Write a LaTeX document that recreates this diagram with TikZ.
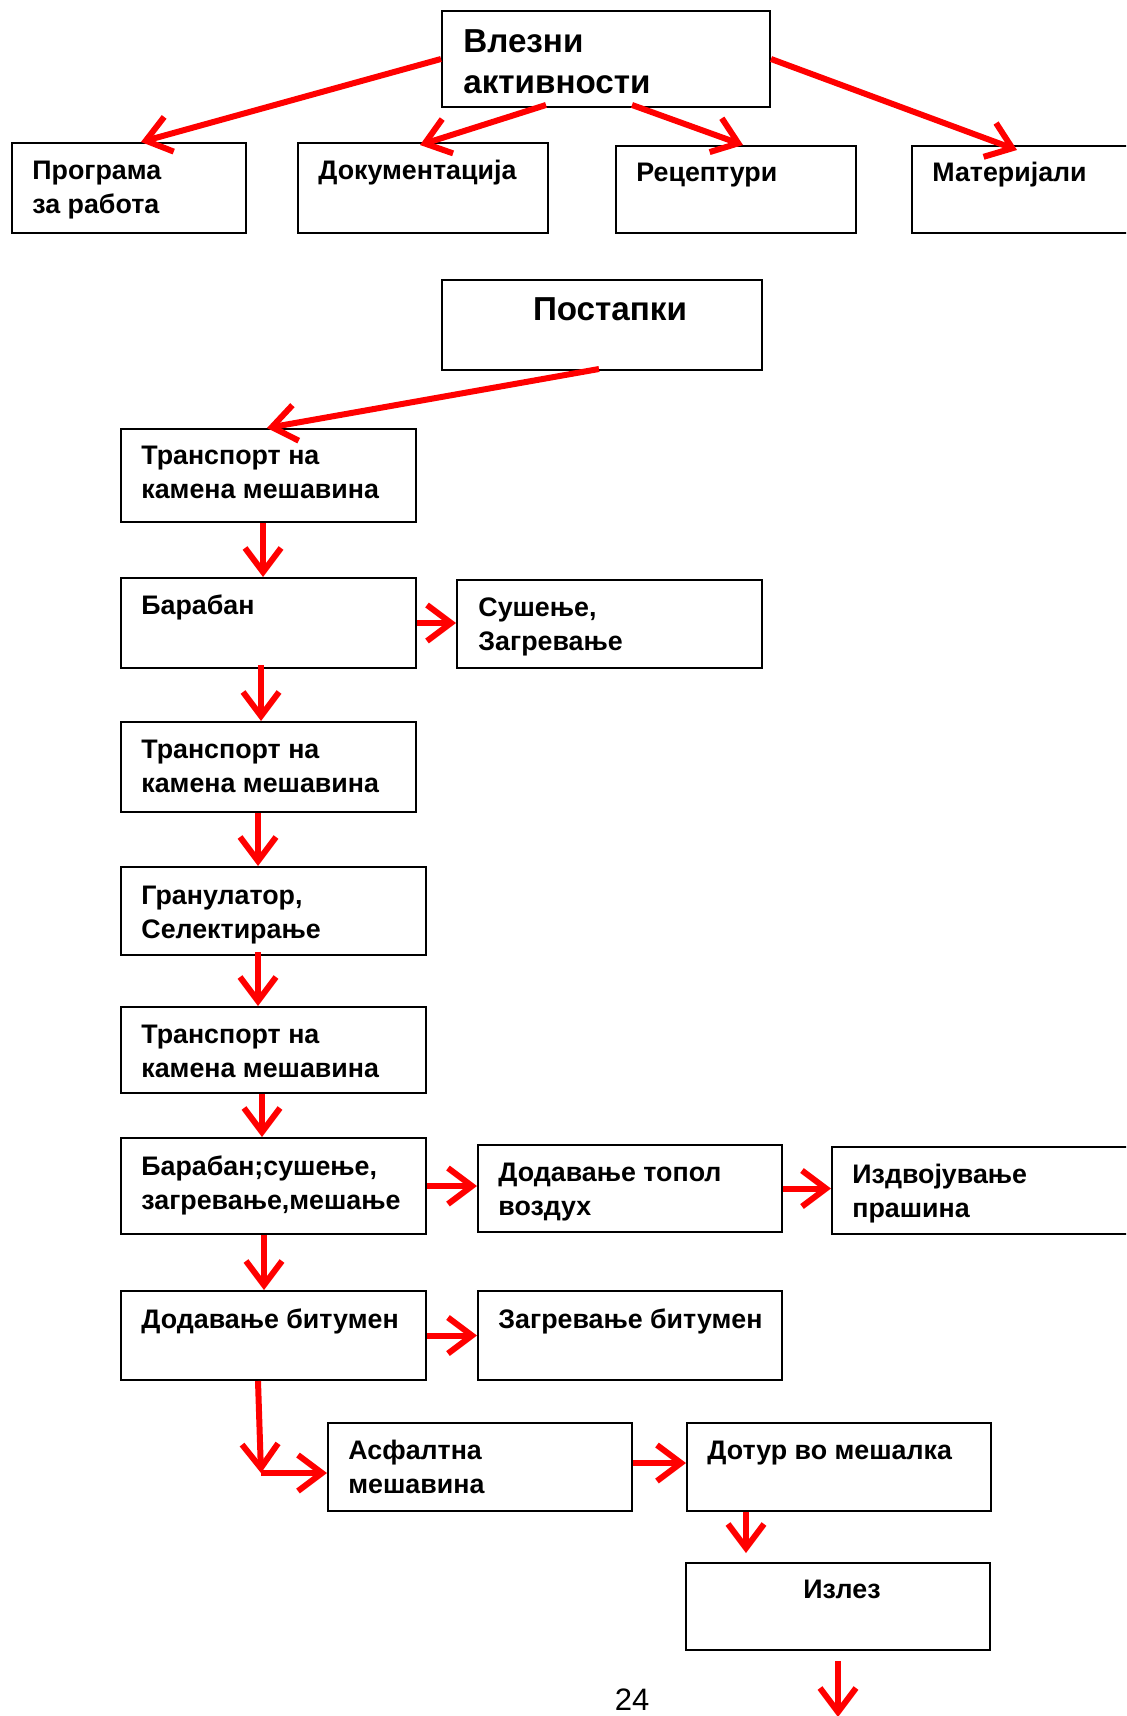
\documentclass[tikz,border=0pt]{standalone}
\usepackage{fontspec}
\setmainfont{Liberation Sans}
\usetikzlibrary{arrows.meta, positioning, calc, fit}
\tikzset{
  blk/.style = {rectangle, draw=black, line width=1pt, inner sep=0pt},
  txt/.style = {anchor=base west, align=left, inner sep=0pt, font=\bfseries\fontsize{13.4}{17}\selectfont},
  bigtxt/.style = {txt, font=\bfseries\fontsize{16.6}{20.8}\selectfont},
  arr/.style = {draw=red, line width=3pt, -{Straight Barb[length=12pt,width=18pt]}}
}
\begin{document}
\begin{tikzpicture}[x=0.5pt, y=-0.5pt]
  \clip (0,0) rectangle (1126,1716);
  % влезни активности (base = last line)
  \node[blk, fit={(442,11) (770,107)}] (vlez) {};
  \node[bigtxt] (vlez-t) at ($(vlez.north west)+(22,84)$) {Влезни\\активности};
  \node[blk, fit={(12,143) (246,233)}] (prog) {};
  \node[txt] (prog-t) at ($(prog.north west)+(21,72)$) {Програма\\за работа};
  \node[blk, fit={(298,143) (548,233)}] (dok) {};
  \node[txt] (dok-t) at ($(dok.north west)+(21,38)$) {Документација};
  \node[blk, fit={(616,146) (856,233)}] (rec) {};
  \node[txt] (rec-t) at ($(rec.north west)+(21,37)$) {Рецептури};
  \node[blk, fit={(912,146) (1140,233)}] (mat) {};
  \node[txt] (mat-t) at ($(mat.north west)+(21,37)$) {Материјали};
  \draw[arr] (vlez.west) -- ($(prog.north west)+(130,0)$);
  \draw[arr] ($(vlez.south west)+(105,-3)$) -- ($(dok.north west)+(123,3)$);
  \draw[arr] ($(vlez.south west)+(191,-3)$) -- ($(rec.north west)+(128,0)$);
  \draw[arr] (vlez.east) -- ($(mat.north west)+(106,5)$);
  % постапки
  \node[blk, fit={(442,280) (762,370)}] (post) {};
  \node[bigtxt, anchor=base] (post-t) at ($(post.north)+(8,42)$) {Постапки};
  \node[blk, fit={(121,429) (416,522)}] (tr1) {};
  \node[txt] (tr1-t) at ($(tr1.north west)+(21,71)$) {Транспорт на\\камена мешавина};
  \node[blk, fit={(121,578) (416,668)}] (bar) {};
  \node[txt] (bar-t) at ($(bar.north west)+(21,37)$) {Барабан};
  \node[blk, fit={(457,580) (762,668)}] (sus) {};
  \node[txt] (sus-t) at ($(sus.north west)+(22,71)$) {Сушење,\\Загревање};
  \node[blk, fit={(121,722) (416,812)}] (tr2) {};
  \node[txt] (tr2-t) at ($(tr2.north west)+(21,71)$) {Транспорт на\\камена мешавина};
  \node[blk, fit={(121,867) (426,955)}] (gran) {};
  \node[txt] (gran-t) at ($(gran.north west)+(21,72)$) {Гранулатор,\\Селектирање};
  \node[blk, fit={(121,1007) (426,1093)}] (tr3) {};
  \node[txt] (tr3-t) at ($(tr3.north west)+(21,71)$) {Транспорт на\\камена мешавина};
  \node[blk, fit={(121,1138) (426,1234)}] (bar2) {};
  \node[txt] (bar2-t) at ($(bar2.north west)+(21,72)$) {Барабан;сушење,\\загревање,мешање};
  \node[blk, fit={(478,1145) (782,1232)}] (topol) {};
  \node[txt] (topol-t) at ($(topol.north west)+(21,71)$) {Додавање топол\\воздух};
  \node[blk, fit={(832,1147) (1140,1234)}] (izd) {};
  \node[txt] (izd-t) at ($(izd.north west)+(21,71)$) {Издвојување\\прашина};
  \node[blk, fit={(121,1291) (426,1380)}] (bit) {};
  \node[txt] (bit-t) at ($(bit.north west)+(21,38)$) {Додавање битумен};
  \node[blk, fit={(478,1291) (782,1380)}] (zbit) {};
  \node[txt] (zbit-t) at ($(zbit.north west)+(21,38)$) {Загревање битумен};
  \node[blk, fit={(328,1423) (632,1511)}] (asf) {};
  \node[txt] (asf-t) at ($(asf.north west)+(21,71)$) {Асфалтна\\мешавина};
  \node[blk, fit={(687,1423) (991,1511)}] (dot) {};
  \node[txt] (dot-t) at ($(dot.north west)+(21,37)$) {Дотур во мешалка};
  \node[blk, fit={(686,1563) (990,1650)}] (izl) {};
  \node[txt, anchor=base] (izl-t) at ($(izl.north)+(4,36)$) {Излез};
  \node[inner sep=0pt, font=\fontsize{15.5}{18}\selectfont] (pg) at (632,1700) {24};
  \draw[arr] ($(post.south west)+(158,-2)$) -- ($(tr1.north west)+(147,0)$);
  \draw[arr] ($(tr1.south west)+(143,0)$) -- ($(bar.north west)+(143,0)$);
  \draw[arr] (bar.east) -- (bar.east -| sus.west);
  \draw[arr] ($(bar.south west)+(141,-4)$) -- ($(tr2.north west)+(141,0)$);
  \draw[arr] ($(tr2.south west)+(138,0)$) -- ($(gran.north west)+(138,0)$);
  \draw[arr] ($(gran.south west)+(138,-4)$) -- ($(tr3.north west)+(138,0)$);
  \draw[arr] ($(tr3.south west)+(142,0)$) -- ($(bar2.north west)+(142,0)$);
  \draw[arr] (bar2.east) -- (bar2.east -| topol.west);
  \draw[arr] (topol.east) -- (topol.east -| izd.west);
  \draw[arr] ($(bar2.south west)+(144,0)$) -- ($(bit.north west)+(144,0)$);
  \draw[arr] (bit.east) -- (bit.east -| zbit.west);
  \coordinate (kn) at ($(bit.south west)+(141,92)$);
  \draw[arr] ($(bit.south west)+(138,0)$) -- (kn);
  \draw[arr] (kn) -- (kn -| asf.west);
  \draw[arr] ($(asf.east)+(0,-4)$) -- ($(asf.east -| dot.west)+(0,-4)$);
  \draw[arr] ($(dot.south west)+(60,0)$) -- ($(izl.north west)+(61,-9)$);
  \coordinate (out) at ($(izl.south)+(0,66)$);
  \draw[arr] ($(izl.south)+(0,10)$) -- (out);
\end{tikzpicture}
\end{document}
